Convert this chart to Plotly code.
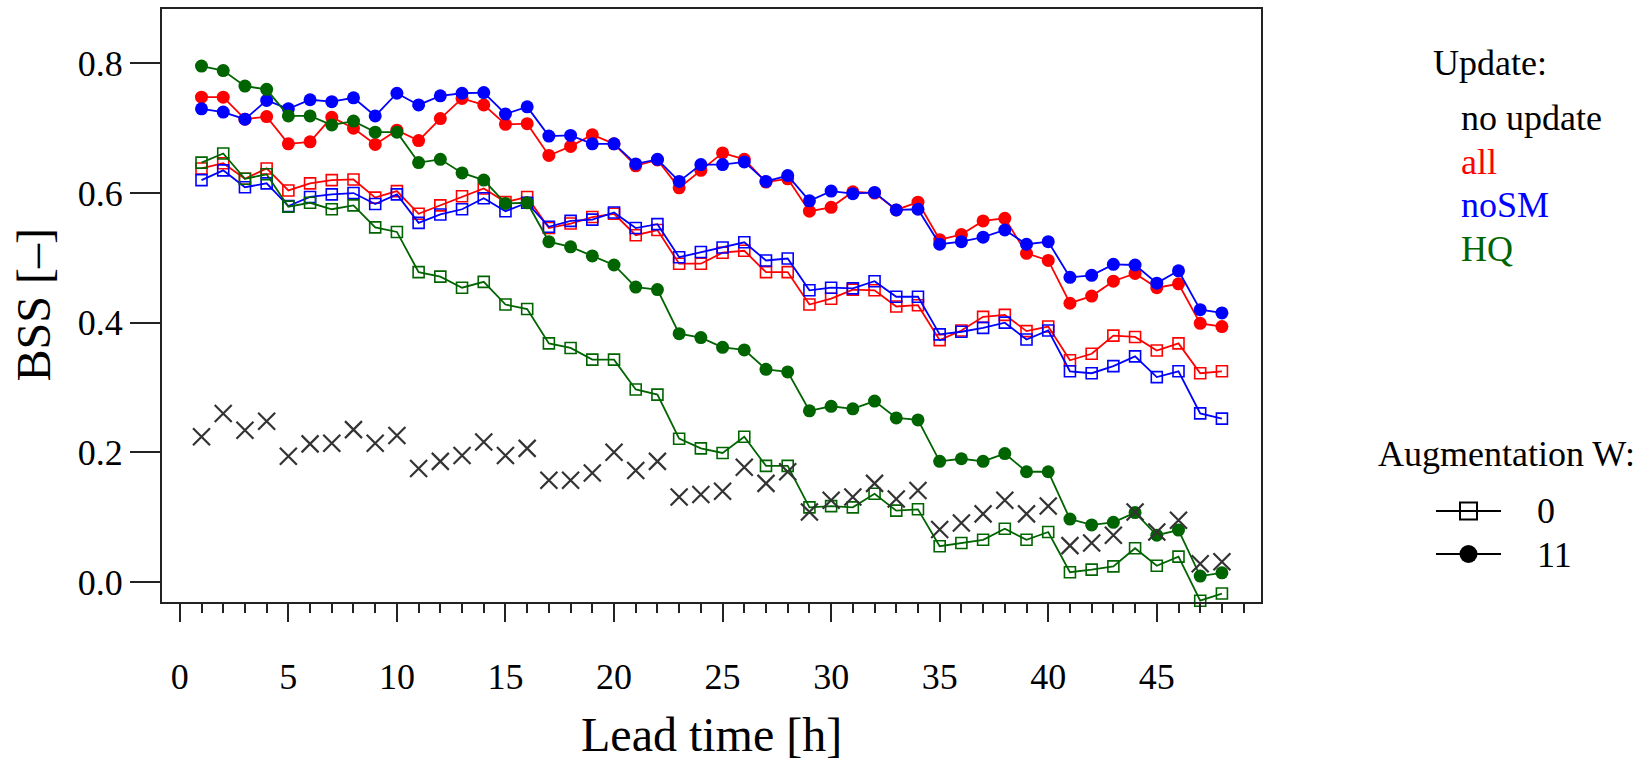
import plotly.graph_objects as go

W, H = 1647, 762

lead_time = [1, 2, 3, 4, 5, 6, 7, 8, 9, 10, 11, 12, 13, 14, 15, 16,
             17, 18, 19, 20, 21, 22, 23, 24, 25, 26, 27, 28, 29, 30, 31, 32, 33,
             34, 35, 36, 37, 38, 39, 40, 41, 42, 43, 44, 45, 46, 47, 48]

no_update = [0.224, 0.260, 0.234, 0.248, 0.194, 0.213, 0.214, 0.235, 0.214, 0.226, 0.175, 0.186, 0.195, 0.216, 0.195, 0.206,
             0.157, 0.157, 0.168, 0.200, 0.172, 0.186, 0.131, 0.135, 0.140, 0.177, 0.152, 0.170, 0.108, 0.126, 0.131, 0.152, 0.128,
             0.141, 0.081, 0.091, 0.105, 0.126, 0.105, 0.117, 0.056, 0.060, 0.072, 0.108, 0.077, 0.095, 0.028, 0.031]

all_w0 = [0.638, 0.646, 0.622, 0.638, 0.604, 0.615, 0.620, 0.621, 0.593, 0.603, 0.568, 0.581, 0.595, 0.607, 0.586, 0.594,
          0.546, 0.553, 0.563, 0.568, 0.535, 0.543, 0.491, 0.491, 0.508, 0.511, 0.478, 0.478, 0.428, 0.437, 0.451, 0.450, 0.425,
          0.427, 0.373, 0.388, 0.409, 0.412, 0.387, 0.394, 0.342, 0.352, 0.380, 0.378, 0.357, 0.368, 0.322, 0.325]

all_w11 = [0.748, 0.748, 0.714, 0.718, 0.676, 0.679, 0.717, 0.700, 0.675, 0.697, 0.681, 0.715, 0.746, 0.736, 0.706, 0.707,
           0.658, 0.672, 0.690, 0.676, 0.642, 0.651, 0.608, 0.635, 0.662, 0.652, 0.617, 0.622, 0.572, 0.578, 0.602, 0.600, 0.574,
           0.586, 0.528, 0.536, 0.557, 0.561, 0.507, 0.496, 0.430, 0.441, 0.464, 0.476, 0.454, 0.460, 0.399, 0.394]

nosm_w0 = [0.620, 0.635, 0.609, 0.615, 0.580, 0.594, 0.598, 0.600, 0.583, 0.598, 0.554, 0.567, 0.575, 0.592, 0.572, 0.585,
           0.548, 0.557, 0.559, 0.570, 0.546, 0.552, 0.501, 0.509, 0.516, 0.524, 0.496, 0.499, 0.450, 0.454, 0.453, 0.464, 0.440,
           0.440, 0.382, 0.386, 0.392, 0.400, 0.374, 0.388, 0.325, 0.322, 0.333, 0.348, 0.316, 0.325, 0.260, 0.252]

nosm_w11 = [0.730, 0.725, 0.714, 0.743, 0.730, 0.744, 0.741, 0.747, 0.719, 0.754, 0.736, 0.750, 0.754, 0.755, 0.722, 0.733,
            0.688, 0.689, 0.676, 0.676, 0.645, 0.652, 0.618, 0.644, 0.644, 0.648, 0.618, 0.627, 0.588, 0.603, 0.599, 0.601, 0.574,
            0.575, 0.521, 0.525, 0.532, 0.543, 0.521, 0.525, 0.470, 0.473, 0.490, 0.489, 0.461, 0.480, 0.420, 0.415]

hq_w0 = [0.647, 0.661, 0.622, 0.629, 0.579, 0.585, 0.575, 0.581, 0.547, 0.540, 0.478, 0.471, 0.454, 0.463, 0.428, 0.421,
         0.368, 0.361, 0.343, 0.343, 0.297, 0.289, 0.221, 0.206, 0.199, 0.224, 0.179, 0.179, 0.115, 0.117, 0.115, 0.136, 0.110,
         0.112, 0.055, 0.060, 0.065, 0.082, 0.065, 0.077, 0.015, 0.019, 0.024, 0.052, 0.025, 0.039, -0.029, -0.018]

hq_w11 = [0.796, 0.789, 0.765, 0.760, 0.719, 0.719, 0.705, 0.711, 0.694, 0.694, 0.647, 0.652, 0.631, 0.620, 0.584, 0.585,
          0.525, 0.517, 0.503, 0.489, 0.455, 0.451, 0.383, 0.377, 0.362, 0.358, 0.328, 0.324, 0.264, 0.271, 0.267, 0.279, 0.253,
          0.250, 0.186, 0.190, 0.186, 0.198, 0.170, 0.170, 0.097, 0.088, 0.092, 0.107, 0.072, 0.080, 0.009, 0.014]

update_labels = ["no update", "all", "noSM", "HQ"]
update_colors = ["#000000", "#FF0000", "#0000FF", "#006400"]
aug_labels = ["0", "11"]
x_ticks = [0, 5, 10, 15, 20, 25, 30, 35, 40, 45]
y_ticks = [0.0, 0.2, 0.4, 0.6, 0.8]

FONT = "Liberation Serif"

# plot area in pixels
PL, PR, PT, PB = 162, 1261, 9, 602

fig = go.Figure()

series = [
    (all_w0, update_colors[1], "square-open"),
    (all_w11, update_colors[1], "circle"),
    (nosm_w0, update_colors[2], "square-open"),
    (nosm_w11, update_colors[2], "circle"),
    (hq_w0, update_colors[3], "square-open"),
    (hq_w11, update_colors[3], "circle"),
]
for vals, col, sym in series:
    if sym == "circle":
        mk = dict(symbol="circle", size=13, color=col, line=dict(width=0))
    else:
        mk = dict(symbol="square-open", size=11, color=col, line=dict(width=1.6, color=col))
    fig.add_trace(go.Scatter(x=lead_time, y=vals, mode="lines+markers",
                             line=dict(color=col, width=1.8), marker=mk,
                             showlegend=False, cliponaxis=False))

fig.add_trace(go.Scatter(x=lead_time, y=no_update, mode="markers",
                         marker=dict(symbol="x-thin-open", size=17, color="#333333",
                                     line=dict(width=2.2, color="#333333")),
                         showlegend=False))

# legend symbols on a helper axis
leg_rows = [64, 21]  # heights in helper-axis units for "0" and "11"
for row, sym in zip(leg_rows, ["square-open", "circle"]):
    fig.add_trace(go.Scatter(x=[0, 2], y=[row, row], mode="lines",
                             line=dict(color="black", width=2),
                             xaxis="x2", yaxis="y2", showlegend=False))
    mk = (dict(symbol="square-open", size=17, color="black", line=dict(width=2, color="black"))
          if sym == "square-open" else dict(symbol="circle", size=18, color="black"))
    fig.add_trace(go.Scatter(x=[1], y=[row], mode="markers", marker=mk,
                             xaxis="x2", yaxis="y2", showlegend=False))

annotations = []
def px_x(x):
    return x / W
def px_y(y):
    return 1 - y / H

annotations.append(dict(text="Lead time [h]", x=px_x((PL + PR) / 2), y=px_y(734),
                        xref="paper", yref="paper", showarrow=False,
                        font=dict(family=FONT, size=48, color="black"),
                        xanchor="center", yanchor="middle"))
annotations.append(dict(text="BSS [–]", x=px_x(33), y=px_y((PT + PB) / 2),
                        xref="paper", yref="paper", showarrow=False, textangle=-90,
                        font=dict(family=FONT, size=48, color="black"),
                        xanchor="center", yanchor="middle"))
annotations.append(dict(text="Update:", x=px_x(1431), y=px_y(63),
                        xref="paper", yref="paper", showarrow=False,
                        font=dict(family=FONT, size=36, color="black"),
                        xanchor="left", yanchor="middle"))
for i, (lab, col) in enumerate(zip(update_labels, update_colors)):
    annotations.append(dict(text=lab, x=px_x(1459), y=px_y(118 + i * 43.5),
                            xref="paper", yref="paper", showarrow=False,
                            font=dict(family=FONT, size=36, color=col),
                            xanchor="left", yanchor="middle"))
annotations.append(dict(text="Augmentation W:", x=px_x(1376), y=px_y(454),
                        xref="paper", yref="paper", showarrow=False,
                        font=dict(family=FONT, size=36, color="black"),
                        xanchor="left", yanchor="middle"))
for i, lab in enumerate(aug_labels):
    annotations.append(dict(text=lab, x=px_x(1535), y=px_y(511 + i * 43.5),
                            xref="paper", yref="paper", showarrow=False,
                            font=dict(family=FONT, size=36, color="black"),
                            xanchor="left", yanchor="middle"))

fig.update_layout(
    width=W, height=H,
    margin=dict(l=0, r=0, t=0, b=0),
    paper_bgcolor="white", plot_bgcolor="white",
    font=dict(family=FONT, color="black"),
    annotations=annotations,
    xaxis=dict(domain=[PL / W, PR / W], range=[-0.82, 49.8],
               tickmode="array", tickvals=x_ticks, ticktext=[str(v) for v in x_ticks],
               ticks="outside", ticklen=18, tickwidth=2, tickcolor="#222",
               minor=dict(dtick=1, tick0=0, ticks="outside", ticklen=9, tickwidth=2, tickcolor="#222"),
               ticklabelstandoff=24,
               tickfont=dict(family=FONT, size=36, color="black"),
               showline=True, linecolor="#222", linewidth=2, mirror=True,
               showgrid=False, zeroline=False, anchor="y"),
    yaxis=dict(domain=[1 - PB / H, 1 - PT / H], range=[-0.031, 0.884],
               tickmode="array", tickvals=y_ticks, ticktext=[f"{v:.1f}" for v in y_ticks],
               ticks="outside", ticklen=30, tickwidth=2, tickcolor="#222",
               ticklabelstandoff=0,
               tickfont=dict(family=FONT, size=36, color="black"),
               showline=True, linecolor="#222", linewidth=2, mirror=True,
               showgrid=False, zeroline=False, anchor="x"),
    xaxis2=dict(domain=[1436 / W, 1501 / W], range=[0, 2], visible=False, anchor="y2"),
    yaxis2=dict(domain=[1 - 575 / H, 1 - 490 / H], range=[0, 85], visible=False, anchor="x2"),
)

fig.write_html("out.html")
